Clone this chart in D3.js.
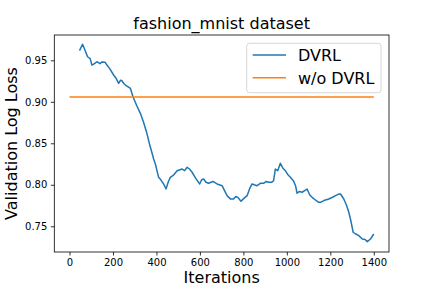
<!DOCTYPE html>
<html>
<head>
<meta charset="utf-8">
<script src="https://cdn.jsdelivr.net/npm/d3@7"></script>
<style>
  body { margin: 0; background: #fff; }
  text { font-family: "DejaVu Sans", sans-serif; }
</style>
</head>
<body>
<div class="canvas"></div>
<script>
// values
const iterations = [46, 60, 70, 83, 95, 103, 115, 126, 140, 150, 164, 172, 185, 203, 215, 226, 235, 241, 250, 257, 270, 280, 292, 310, 326, 340, 356, 368, 380, 387, 395, 410, 420, 433, 444, 455, 464, 480, 495, 518, 530, 541, 552, 564, 580, 599, 608, 617, 628, 640, 660, 679, 702, 715, 725, 740, 755, 765, 774, 789, 800, 817, 830, 840, 850, 863, 880, 893, 905, 916, 930, 939, 947, 958, 970, 982, 993, 1005, 1016, 1030, 1040, 1047, 1058, 1070, 1082, 1093, 1105, 1116, 1130, 1145, 1155, 1170, 1193, 1210, 1224, 1240, 1247, 1262, 1275, 1285, 1295, 1305, 1315, 1331, 1347, 1360, 1370, 1385, 1400];
const dvrl = [0.9616, 0.9693, 0.9630, 0.9543, 0.9520, 0.9443, 0.9460, 0.9483, 0.9460, 0.9480, 0.9476, 0.9443, 0.9400, 0.9323, 0.9280, 0.9223, 0.9260, 0.9254, 0.9220, 0.9202, 0.9180, 0.9163, 0.9061, 0.8950, 0.8861, 0.8760, 0.8620, 0.8492, 0.8380, 0.8311, 0.8251, 0.8090, 0.8060, 0.8010, 0.7950, 0.8040, 0.8090, 0.8120, 0.8170, 0.8190, 0.8170, 0.8211, 0.8190, 0.8151, 0.8080, 0.8010, 0.8060, 0.8070, 0.8030, 0.8018, 0.8040, 0.8010, 0.7989, 0.7920, 0.7869, 0.7830, 0.7829, 0.7860, 0.7849, 0.7801, 0.7830, 0.7869, 0.7960, 0.8010, 0.8000, 0.7989, 0.8020, 0.8018, 0.8040, 0.8030, 0.8030, 0.8049, 0.8190, 0.8170, 0.8259, 0.8200, 0.8170, 0.8120, 0.8090, 0.8050, 0.7989, 0.7898, 0.7920, 0.7910, 0.7930, 0.7949, 0.7880, 0.7849, 0.7820, 0.7790, 0.7789, 0.7810, 0.7829, 0.7850, 0.7869, 0.7890, 0.7889, 0.7829, 0.7750, 0.7669, 0.7560, 0.7428, 0.7410, 0.7387, 0.7347, 0.7340, 0.7315, 0.7347, 0.7407];
const baseIterations = [0, 1400];
const baseline = [0.9058, 0.9058];

const xTicks = [0, 200, 400, 600, 800, 1000, 1200, 1400];
const yTicks = [0.75, 0.80, 0.85, 0.90, 0.95];
const seriesNames = ['DVRL', 'w/o DVRL'];
const colors = ['#1f77b4', '#ff7f0e'];

const dims = { width: 432, height: 288 };
const margin = { left: 54.3, right: 43, top: 35, bottom: 36 };

const svg = d3.select('.canvas')
    .append('svg')
    .attr('width', dims.width)
    .attr('height', dims.height);

const x = d3.scaleLinear()
    .domain([-70, 1470])
    .range([margin.left, dims.width - margin.right]);

const y = d3.scaleLinear()
    .domain([0.719, 0.9805])
    .range([dims.height - margin.bottom, margin.top]);

// axes
const xAxis = svg.append('g')
    .attr('transform', `translate(0, ${dims.height - margin.bottom})`)
    .call(d3.axisBottom(x).tickValues(xTicks).tickSize(3.5).tickPadding(3.5).tickFormat(d3.format('d')));

const yAxis = svg.append('g')
    .attr('transform', `translate(${margin.left}, 0)`)
    .call(d3.axisLeft(y).tickValues(yTicks).tickSize(3.5).tickPadding(3.5).tickFormat(d3.format('.2f')));

[xAxis, yAxis].forEach(a => {
    a.select('.domain').remove();
    a.selectAll('line').attr('stroke', '#000').attr('stroke-width', 0.8);
    a.selectAll('text').attr('font-size', 10).attr('fill', '#000')
        .attr('font-family', '"DejaVu Sans", sans-serif');
});

// lines
const line = d3.line().x(d => x(d[0])).y(d => y(d[1]));

svg.append('path')
    .datum(iterations.map((it, i) => [it, dvrl[i]]))
    .attr('fill', 'none')
    .attr('stroke', colors[0])
    .attr('stroke-width', 1.5)
    .attr('stroke-linejoin', 'round')
    .attr('d', line);

svg.append('path')
    .datum(baseIterations.map((it, i) => [it, baseline[i]]))
    .attr('fill', 'none')
    .attr('stroke', colors[1])
    .attr('stroke-width', 1.5)
    .attr('d', line);

// frame
svg.append('rect')
    .attr('x', margin.left)
    .attr('y', margin.top)
    .attr('width', dims.width - margin.left - margin.right)
    .attr('height', dims.height - margin.top - margin.bottom)
    .attr('fill', 'none')
    .attr('stroke', '#000')
    .attr('stroke-width', 0.8);

// labels
svg.append('text')
    .attr('x', (margin.left + dims.width - margin.right) / 2)
    .attr('y', 29)
    .attr('text-anchor', 'middle')
    .attr('font-size', 16)
    .text('fashion_mnist dataset');

svg.append('text')
    .attr('x', (margin.left + dims.width - margin.right) / 2)
    .attr('y', 283)
    .attr('text-anchor', 'middle')
    .attr('font-size', 16)
    .text('Iterations');

svg.append('text')
    .attr('transform', `translate(17, ${(margin.top + dims.height - margin.bottom) / 2}) rotate(-90)`)
    .attr('text-anchor', 'middle')
    .attr('font-size', 16)
    .text('Validation Log Loss');

// legend
const legend = svg.append('g');
legend.append('rect')
    .attr('x', 246.7)
    .attr('y', 43.3)
    .attr('width', 134.3)
    .attr('height', 49.4)
    .attr('rx', 3)
    .attr('fill', '#fff')
    .attr('fill-opacity', 0.8)
    .attr('stroke', '#ccc')
    .attr('stroke-width', 0.8);

seriesNames.forEach((name, i) => {
    const ly = 55 + i * 22.7;
    legend.append('line')
        .attr('x1', 252.7).attr('x2', 286)
        .attr('y1', ly).attr('y2', ly)
        .attr('stroke', colors[i])
        .attr('stroke-width', 1.5);
    legend.append('text')
        .attr('x', 298)
        .attr('y', ly + 5.8)
        .attr('font-size', 16)
        .text(name);
});
</script>
</body>
</html>
